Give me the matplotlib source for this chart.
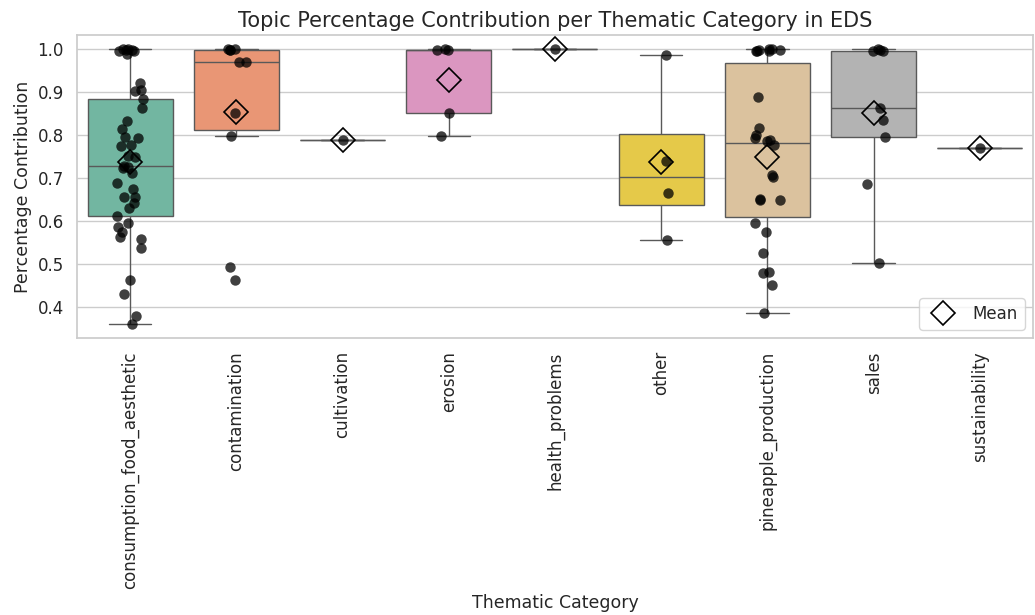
import numpy as np
import pandas as pd
import matplotlib
matplotlib.use("Agg")
import matplotlib.pyplot as plt
from matplotlib.lines import Line2D
import seaborn as sns

categories = ["consumption_food_aesthetic", "contamination", "cultivation", "erosion",
              "health_problems", "other", "pineapple_production", "sales", "sustainability"]

consumption_food_aesthetic = [
    0.361, 0.379, 0.430, 0.464, 0.538, 0.559, 0.564, 0.575, 0.587, 0.596, 0.612,
    0.630, 0.642, 0.657, 0.657, 0.675, 0.688, 0.711, 0.723, 0.725, 0.727,
    0.748, 0.752, 0.775, 0.778, 0.792, 0.795, 0.815, 0.832, 0.862, 0.884,
    0.903, 0.905, 0.921, 0.989, 0.995, 0.996, 0.997, 0.998, 0.999, 1.000]
contamination = [0.464, 0.494, 0.797, 0.852, 0.969, 0.970, 0.997, 0.998, 0.999, 1.000]
cultivation = [0.789]
erosion = [0.797, 0.852, 0.997, 0.998, 0.999]
health_problems = [1.000]
other = [0.557, 0.666, 0.740, 0.985]
pineapple_production = [
    0.388, 0.451, 0.481, 0.483, 0.526, 0.575, 0.597, 0.649, 0.650, 0.651, 0.703, 0.707,
    0.776, 0.785, 0.788, 0.792, 0.800, 0.817, 0.888,
    0.994, 0.995, 0.996, 0.997, 0.998, 0.999, 1.000]
sales = [0.504, 0.686, 0.795, 0.834, 0.862, 0.994, 0.996, 0.998, 1.000]
sustainability = [0.770]

values = [consumption_food_aesthetic, contamination, cultivation, erosion, health_problems,
          other, pineapple_production, sales, sustainability]

rows = []
for cat, vals in zip(categories, values):
    for v in vals:
        rows.append({"category": cat, "value": v})
df = pd.DataFrame(rows)

sns.set_theme(style="whitegrid")
plt.rcParams['font.family'] = ['DejaVu Sans']

fig = plt.figure(figsize=(10.35, 6.15), dpi=100)
ax = fig.add_axes([0.0744, 0.4504, 0.9236, 0.4926])

np.random.seed(3)
sns.boxplot(data=df, x="category", y="value", hue="category", order=categories,
            hue_order=categories, palette="Set2", legend=False, showfliers=False,
            showmeans=True, width=0.8, linewidth=1.0,
            meanprops=dict(marker="D", markerfacecolor="none", markeredgecolor="black",
                           markersize=12, markeredgewidth=1.2, zorder=6),
            ax=ax)
sns.stripplot(data=df, x="category", y="value", order=categories, color="black",
              alpha=0.75, size=7.5, jitter=0.13, ax=ax, zorder=4)

ax.set_title("Topic Percentage Contribution per Thematic Category in EDS", fontsize=15)
ax.set_xlabel("Thematic Category", fontsize=12.5)
ax.set_ylabel("Percentage Contribution", fontsize=12.5)
ax.tick_params(axis="x", labelrotation=90, labelsize=12)
ax.tick_params(axis="y", labelsize=12)

handle = Line2D([], [], marker="D", linestyle="none", markerfacecolor="none",
                markeredgecolor="black", markersize=12, markeredgewidth=1.2)
ax.legend([handle], ["Mean"], loc="lower right", fontsize=12)

fig.savefig("out.png", dpi=100)
